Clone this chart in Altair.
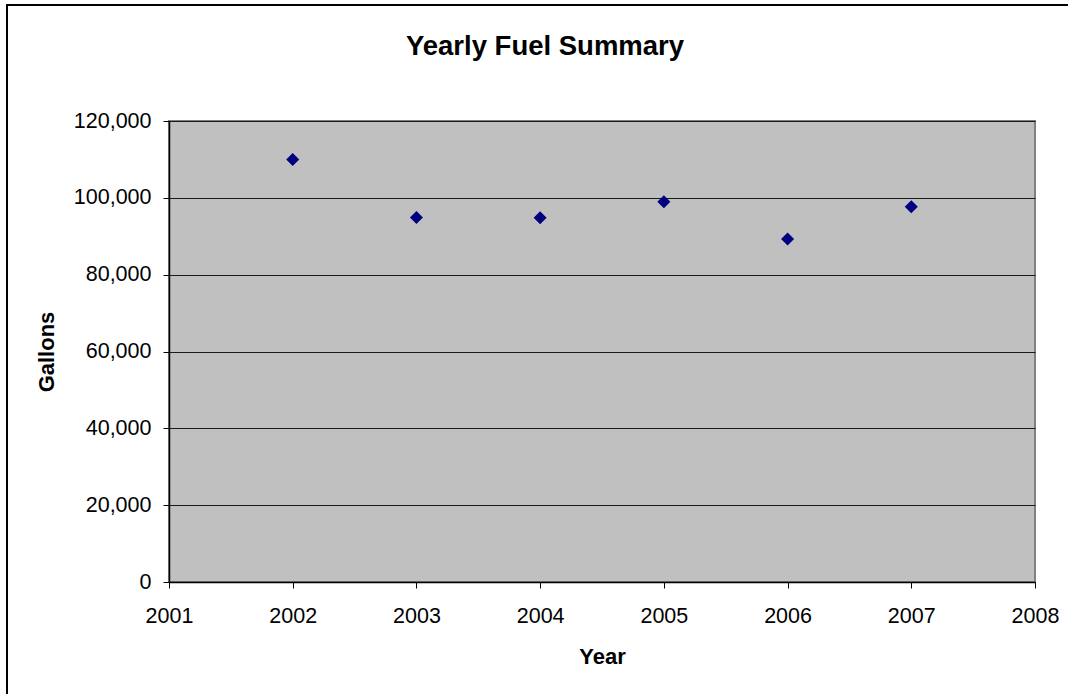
import altair as alt
import pandas as pd

# Annual fuel use
years = [2002, 2003, 2004, 2005, 2006, 2007]
gallons = [110000, 94900, 94800, 99000, 89300, 97700]

x_ticks = [2001, 2002, 2003, 2004, 2005, 2006, 2007, 2008]
y_ticks = [0, 20000, 40000, 60000, 80000, 100000, 120000]

chart_title = "Yearly Fuel Summary"

df = pd.DataFrame({"Year": years, "Gallons": gallons})

FONT = "Liberation Sans"
W, H = 866, 461

# Frame around the whole chart
frame = alt.Chart(pd.DataFrame({"k": [0]})).mark_rect(
    fill=None, stroke="#000000", strokeWidth=2
).encode(
    x=alt.value(-162), x2=alt.value(W + 60),
    y=alt.value(-116), y2=alt.value(H + 150),
)

# Chart heading, centred over the whole figure
heading = alt.Chart(pd.DataFrame({"t": [chart_title]})).mark_text(
    font=FONT, fontSize=27.5, fontWeight="bold", color="#000000",
    align="center", baseline="alphabetic",
).encode(
    text="t:N", x=alt.value(376), y=alt.value(-66),
)

points = alt.Chart(df).mark_point(
    shape="diamond", filled=True, color="#000080", size=170, opacity=1
).encode(
    x=alt.X(
        "Year:Q",
        scale=alt.Scale(domain=[2001, 2008], nice=False, zero=False),
        axis=alt.Axis(
            values=x_ticks, format="d", title="Year", grid=False,
            tickSize=6, labelPadding=17, labelFlush=False,
            titleY=81.5, titleBaseline="alphabetic",
        ),
    ),
    y=alt.Y(
        "Gallons:Q",
        scale=alt.Scale(domain=[0, 120000], nice=False),
        axis=alt.Axis(
            values=y_ticks, format=",d", title="Gallons", grid=True,
            tickSize=6, labelPadding=12, labelFlush=False,
            titleX=-116, titleBaseline="alphabetic",
        ),
    ),
)

chart = alt.layer(frame, heading, points).properties(
    width=W,
    height=H,
    autosize=alt.AutoSizeParams(type="none"),
    padding={"left": 169, "top": 121, "right": 33, "bottom": 112},
).configure(
    background="#ffffff",
).configure_view(
    fill="#c0c0c0", stroke="#808080", strokeWidth=2,
).configure_axis(
    labelFont=FONT, labelFontSize=21.5, labelColor="#000000",
    titleFont=FONT, titleFontSize=22, titleFontWeight="bold", titleColor="#000000",
    domainColor="#000000", domainWidth=1.5, tickColor="#000000", tickWidth=1,
    gridColor="#1a1a1a", gridWidth=1, gridOpacity=1,
)

chart.save("out.html", embed_options={"renderer": "svg", "actions": False})
